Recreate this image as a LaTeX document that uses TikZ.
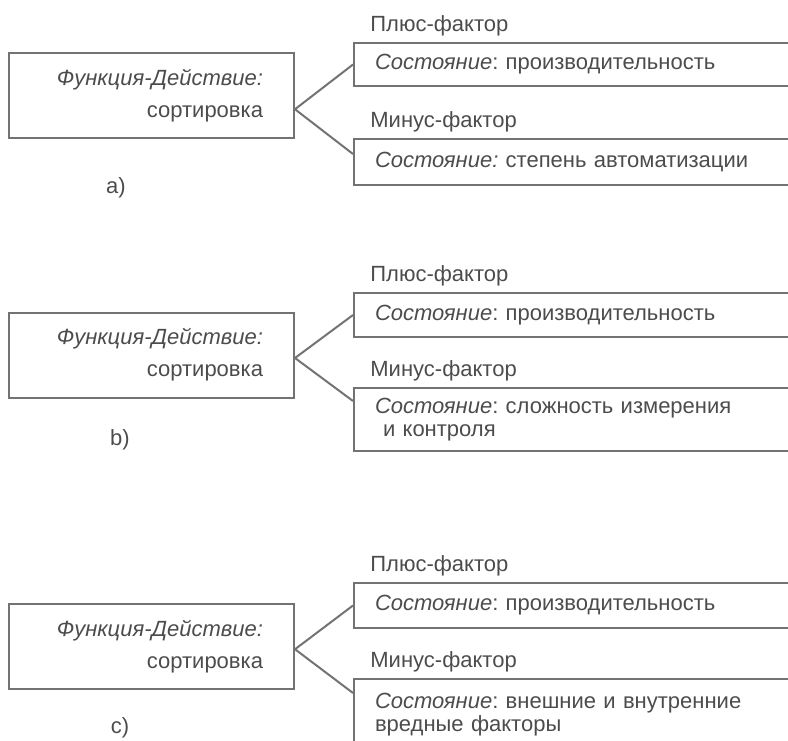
\documentclass[tikz,border=0pt]{standalone}
\usepackage{fontspec}
\setmainfont{Liberation Sans}
\frenchspacing
\usetikzlibrary{positioning}
\definecolor{ink}{gray}{0.3}
\definecolor{rule}{gray}{0.45}
\tikzset{
  fbox/.style={draw=rule, line width=1pt, text=ink, minimum height=42.5pt,
    text width=111.5pt, inner xsep=15.5pt, align=right,
    font=\fontsize{11}{16}\selectfont},
  sbox/.style={draw=rule, line width=1pt, text=ink, anchor=north west,
    text width=209pt, inner xsep=10.5pt, align=left,
    font=\fontsize{11}{11.5}\selectfont},
  flabel/.style={text=ink, anchor=base west, inner sep=0pt, font=\fontsize{11}{13}\selectfont},
  plabel/.style={text=ink, inner sep=0pt, font=\fontsize{11}{13}\selectfont},
  link/.style={draw=rule, line width=1pt},
}
\begin{document}
\begin{tikzpicture}[x=0.5pt,y=-0.5pt]
\useasboundingbox (0,0) rectangle (788,740);

% a)
\node[fbox] (fa) at (151.5,95.5) {\textit{Функция-Действие:}\\сортировка};
\node[sbox, minimum height=21.5pt] (pa) at (353,42) {\textit{Состояние}: производительность};
\node[sbox, minimum height=23pt] (ma) at (353,138) {\textit{Состояние:} степень автоматизации};
\node[flabel] (plusa) at ([xshift=8.5pt,yshift=5.5pt]pa.north west) {Плюс-фактор};
\node[flabel] (minusa) at ([xshift=8.5pt,yshift=5.5pt]ma.north west) {Минус-фактор};
\node[plabel] (la) at (116,188) {a)};
\coordinate (ma-in) at ([yshift=-8pt]ma.north west);
\path (pa.west) -- (ma-in) coordinate[midway] (mida);
\draw[link] (pa.west) -- (fa.east |- mida) -- (ma-in);

% b)
\node[fbox] (fb) at (151.5,355) {\textit{Функция-Действие:}\\сортировка};
\node[sbox, minimum height=22pt] (pb) at (353,292) {\textit{Состояние}: производительность};
\node[sbox, minimum height=31.5pt] (mb) at (353,387) {\textit{Состояние}: сложность измерения\\\hspace*{4pt}и контроля};
\node[flabel] (plusb) at ([xshift=8.5pt,yshift=5.5pt]pb.north west) {Плюс-фактор};
\node[flabel] (minusb) at ([xshift=8.5pt,yshift=5.5pt]mb.north west) {Минус-фактор};
\node[plabel] (lb) at (120,440) {b)};
\coordinate (mb-in) at ([yshift=-7pt]mb.north west);
\path (pb.west) -- (mb-in) coordinate[midway] (midb);
\draw[link] (pb.west) -- (fb.east |- midb) -- (mb-in);

% c)
\node[fbox] (fc) at (151.5,646.5) {\textit{Функция-Действие:}\\сортировка};
\node[sbox, minimum height=22.5pt] (pc) at (353,582) {\textit{Состояние}: производительность};
\node[sbox, minimum height=35.5pt] (mc) at (353,678) {\textit{Состояние}: внешние и внутренние\\вредные факторы};
\node[flabel] (plusc) at ([xshift=8.5pt,yshift=5.5pt]pc.north west) {Плюс-фактор};
\node[flabel] (minusc) at ([xshift=8.5pt,yshift=5.5pt]mc.north west) {Минус-фактор};
\node[plabel] (lc) at (120,728) {c)};
\coordinate (mc-in) at ([yshift=-7.5pt]mc.north west);
\path (pc.west) -- (mc-in) coordinate[midway] (midc);
\draw[link] (pc.west) -- (fc.east |- midc) -- (mc-in);

\end{tikzpicture}
\end{document}
